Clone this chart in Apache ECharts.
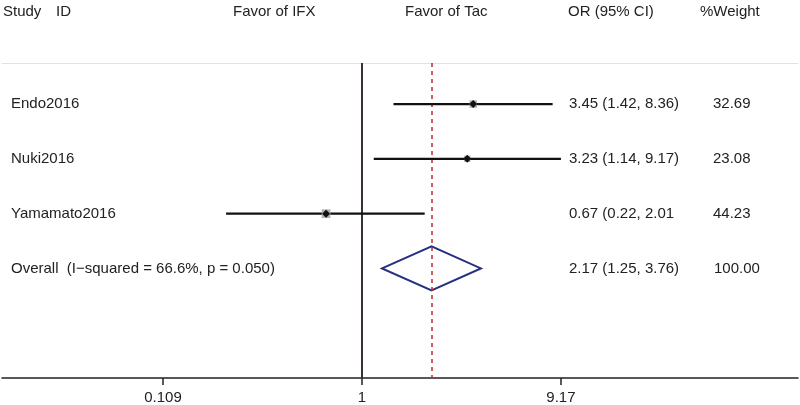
<!DOCTYPE html>
<html>
<head>
<meta charset="utf-8">
<script src="https://cdn.jsdelivr.net/npm/echarts@6/dist/echarts.min.js"></script>
<style>
  html, body { margin: 0; padding: 0; background: #fff; }
  #chart { width: 800px; height: 405px; }
</style>
</head>
<body>
<div id="chart"></div>
<script>
// ---- data ----
const studies = ['Endo2016', 'Nuki2016', 'Yamamato2016'];
const orValues = [3.45, 3.23, 0.67];
const ciLower = [1.42, 1.14, 0.22];
const ciUpper = [8.36, 9.17, 2.01];
const weights = [32.69, 23.08, 44.23];
const ciLabels = ['3.45 (1.42, 8.36)', '3.23 (1.14, 9.17)', '0.67 (0.22, 2.01'];
const weightLabels = ['32.69', '23.08', '44.23'];
const studyRows = [1, 2, 3];

const overallLabel = 'Overall  (I\u2212squared = 66.6%, p = 0.050)';
const overallOR = 2.17;
const overallLower = 1.25;
const overallUpper = 3.76;
const overallCI = '2.17 (1.25, 3.76)';
const overallWeight = '100.00';
const overallRow = 4;

const nullValue = 1;
const tickValues = [0.109, 1, 9.17];
const tickLabels = ['0.109', '1', '9.17'];

const headers = ['Study', 'ID', 'Favor of IFX', 'Favor of Tac', 'OR (95% CI)', '%Weight'];

// ---- layout constants ----
const FONT = 'Liberation Sans, Arial, Helvetica, sans-serif';
const TXT = '#222';
const X_NAME = 11, X_CI = 569, X_W = 713;

const chart = echarts.init(document.getElementById('chart'), null, { renderer: 'canvas' });

const studyData = studies.map((s, i) => [orValues[i], ciLower[i], ciUpper[i], studyRows[i], weights[i], i]);

function textEl(x, y, str) {
  return {
    type: 'text', x: x, y: y,
    style: { text: str, fill: TXT, font: '15px ' + FONT, textAlign: 'left', textVerticalAlign: 'middle' }
  };
}

option = {
  animation: false,
  backgroundColor: '#fff',
  grid: { left: 2, right: 2, top: 63, bottom: 27, containLabel: false },
  xAxis: [{
    type: 'log',
    logBase: 10,
    min: 0.01813,
    max: 128.6,
    axisLine: { show: true, lineStyle: { color: '#222', width: 1.5 } },
    axisTick: { show: true, customValues: tickValues, length: 7, lineStyle: { color: '#222', width: 1.5 } },
    axisLabel: {
      show: true, customValues: tickValues, margin: 12,
      color: TXT, fontSize: 15, fontFamily: FONT,
      formatter: function (v) {
        for (let k = 0; k < tickValues.length; k++) {
          if (Math.abs(Math.log10(v) - Math.log10(tickValues[k])) < 1e-4) return tickLabels[k];
        }
        return '';
      }
    },
    splitLine: { show: false },
    minorTick: { show: false }
  }, {
    type: 'value', position: 'top', min: 0, max: 1,
    axisLine: { show: true, lineStyle: { color: '#e2e2e2', width: 1 } },
    axisTick: { show: false }, axisLabel: { show: false }, splitLine: { show: false }
  }],
  yAxis: {
    type: 'value', inverse: true, min: 0.25, max: 6, show: false,
    splitLine: { show: false }
  },
  graphic: [
    textEl(3, 12, headers[0]),
    textEl(56, 12, headers[1]),
    textEl(233, 12, headers[2]),
    textEl(405, 12, headers[3]),
    textEl(568, 12, headers[4]),
    textEl(700, 12, headers[5])
  ],
  series: [{
    type: 'custom',
    silent: true,
    data: studyData,
    renderItem: function (params, api) {
      const row = api.value(3);
      const pOR = api.coord([api.value(0), row]);
      const pLo = api.coord([api.value(1), row]);
      const pHi = api.coord([api.value(2), row]);
      const y = pOR[1];
      const w = api.value(4);
      const idx = api.value(5);
      const s = 1.3 * Math.sqrt(w);
      const r = 4;
      return {
        type: 'group',
        children: [
          { type: 'line', shape: { x1: pLo[0], y1: y, x2: pHi[0], y2: y }, style: { stroke: '#111', lineWidth: 2.2 } },
          { type: 'rect', shape: { x: pOR[0] - s / 2, y: y - s / 2, width: s, height: s }, style: { fill: '#b0b0b0' } },
          { type: 'polygon', shape: { points: [[pOR[0] - r, y], [pOR[0], y - r], [pOR[0] + r, y], [pOR[0], y + r]] }, style: { fill: '#111' } },
          textEl(X_NAME, y, studies[idx]),
          textEl(X_CI, y, ciLabels[idx]),
          textEl(X_W, y, weightLabels[idx])
        ]
      };
    },
    z: 5
  }, {
    type: 'custom',
    silent: true,
    data: [[overallOR, overallLower, overallUpper, overallRow]],
    renderItem: function (params, api) {
      const row = api.value(3);
      const pOR = api.coord([api.value(0), row]);
      const pLo = api.coord([api.value(1), row]);
      const pHi = api.coord([api.value(2), row]);
      const y = pOR[1];
      const h = 22;
      return {
        type: 'group',
        children: [
          { type: 'polygon', shape: { points: [[pLo[0], y], [pOR[0], y - h], [pHi[0], y], [pOR[0], y + h]] },
            style: { fill: 'none', stroke: '#26307f', lineWidth: 2, lineJoin: 'miter' } },
          textEl(X_NAME, y, overallLabel),
          textEl(X_CI, y, overallCI),
          textEl(X_W + 1, y, overallWeight)
        ]
      };
    },
    markLine: {
      silent: true,
      symbol: ['none', 'none'],
      label: { show: false },
      data: [
        { xAxis: nullValue, lineStyle: { color: '#3a3232', width: 2, type: 'solid' } },
        { xAxis: overallOR, lineStyle: { color: '#c0282d', width: 1.5, type: [4, 4] } }
      ]
    },
    z: 4
  }]
};

chart.setOption(option);
</script>
</body>
</html>
